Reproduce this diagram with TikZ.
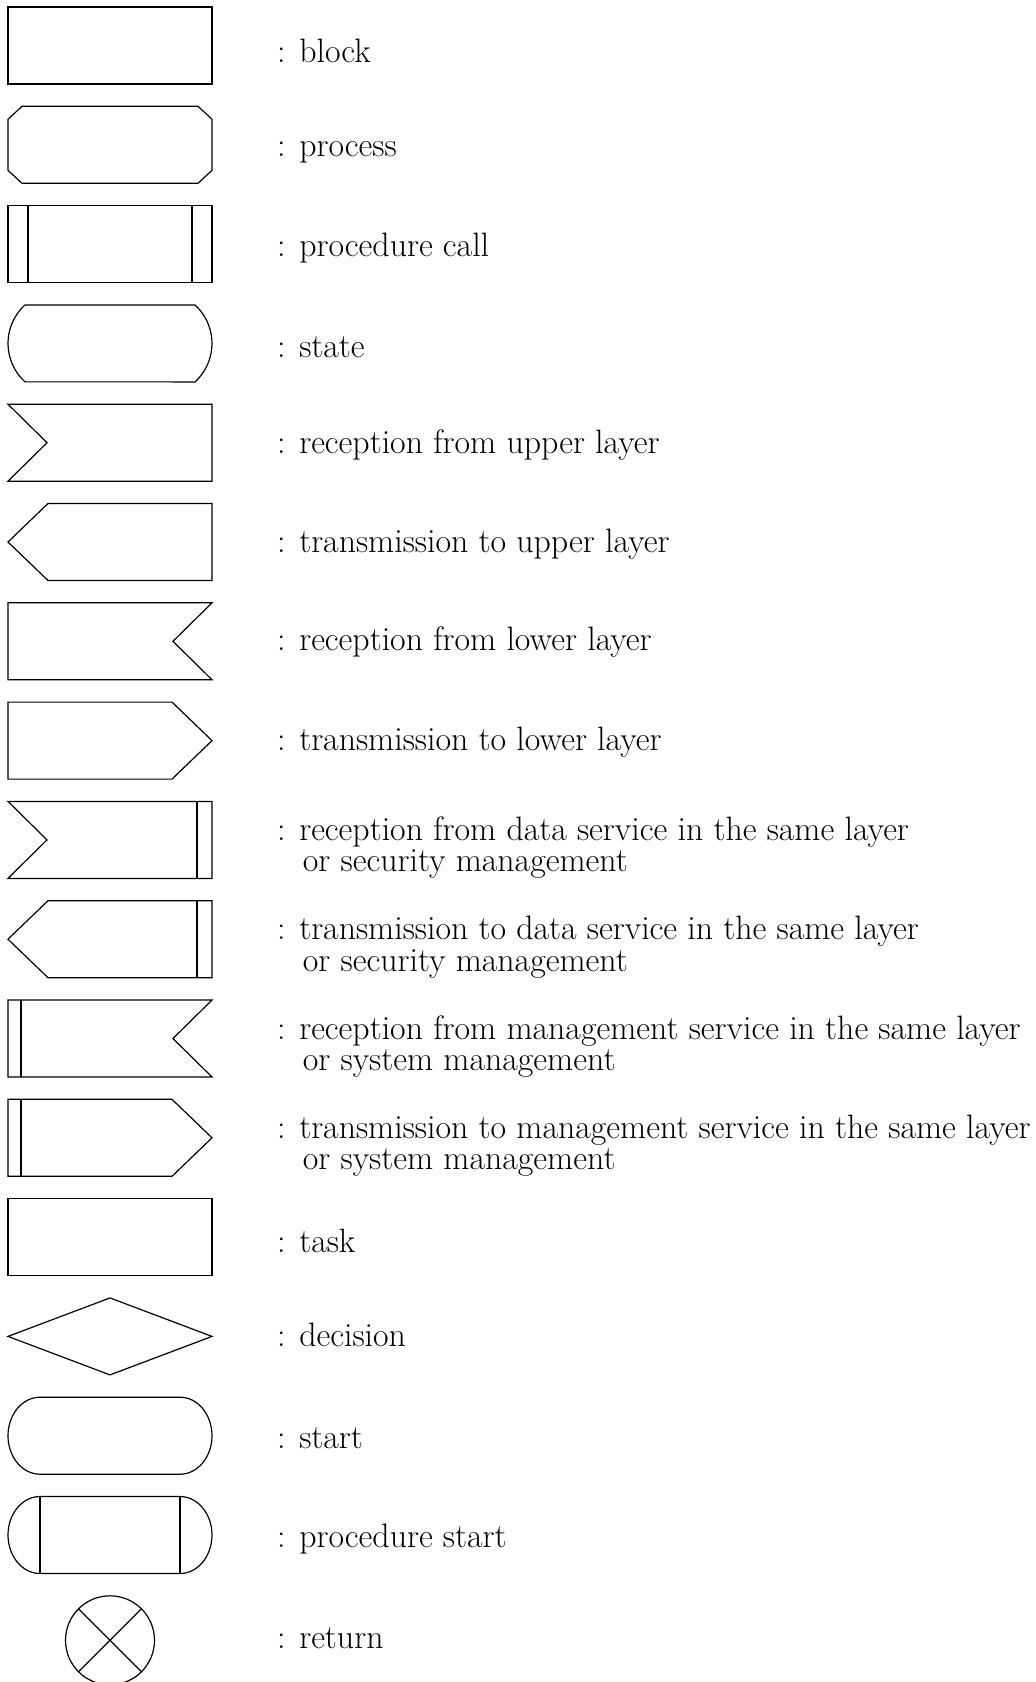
\documentclass[tikz,border=0pt]{standalone}
\usepackage{tikz}
\usetikzlibrary{positioning}

\begin{document}
\begin{tikzpicture}[
    x=1pt, y=-1pt,
    symb/.style={draw, line width=1.2pt},
    legendrow/.style={shift={(0,{7+99.3*#1})}},
    lbl/.style={anchor=base west, inner sep=0pt, font=\fontsize{33.85}{31.5}\selectfont},
    lbltwo/.style={lbl, align=left},
  ]
  \useasboundingbox (0,0) rectangle (1036,1682);

  % block
  \begin{scope}[legendrow=0]
    \draw[symb] (8,0) rectangle (212,77);
    \node[lbl] (block) at (277,55) {: block};
  \end{scope}

  % process
  \begin{scope}[legendrow=1]
    \draw[symb] (8,13) -- (22,0) -- (198,0) -- (212,13) -- (212,64)
      -- (198,77) -- (22,77) -- (8,64) -- cycle;
    \node[lbl] (process) at (277,50) {: process};
  \end{scope}

  % procedure call
  \begin{scope}[legendrow=2]
    \draw[symb] (8,0) rectangle (212,77);
    \draw[symb] (28,0) -- (28,77) (192,0) -- (192,77);
    \node[lbl] (proccall) at (277,51) {: procedure call};
  \end{scope}

  % state
  \begin{scope}[legendrow=3]
    \draw[symb] (25,0) arc[start angle=132.4, end angle=227.6, radius=52.1pt]
      -- (195,77) arc[start angle=-47.6, end angle=47.6, radius=52.1pt] -- cycle;
    \node[lbl] (state) at (277,53) {: state};
  \end{scope}

  % signals from/to upper and lower layer
  \begin{scope}[legendrow=4]
    \draw[symb] (8,0) -- (212,0) -- (212,77) -- (8,77) -- (47,38.5) -- cycle;
    \node[lbl] (recupper) at (277,49) {: reception from upper layer};
  \end{scope}
  \begin{scope}[legendrow=5]
    \draw[symb] (48,0) -- (212,0) -- (212,77) -- (48,77) -- (8,38.5) -- cycle;
    \node[lbl] (transupper) at (277,49) {: transmission to upper layer};
  \end{scope}
  \begin{scope}[legendrow=6]
    \draw[symb] (8,0) -- (212,0) -- (173,38.5) -- (212,77) -- (8,77) -- cycle;
    \node[lbl] (reclower) at (277,48) {: reception from lower layer};
  \end{scope}
  \begin{scope}[legendrow=7]
    \draw[symb] (8,0) -- (172,0) -- (212,38.5) -- (172,77) -- (8,77) -- cycle;
    \node[lbl] (translower) at (277,48) {: transmission to lower layer};
  \end{scope}

  % same layer services (base = second line)
  \begin{scope}[legendrow=8]
    \draw[symb] (8,0) -- (212,0) -- (212,77) -- (8,77) -- (47,38.5) -- cycle;
    \draw[symb] (197,0) -- (197,77);
    \node[lbltwo] (recdata) at (277,70.5)
      {: reception from data service in the same layer\\\hspace*{.76em}or security management};
  \end{scope}
  \begin{scope}[legendrow=9]
    \draw[symb] (48,0) -- (212,0) -- (212,77) -- (48,77) -- (8,38.5) -- cycle;
    \draw[symb] (197,0) -- (197,77);
    \node[lbltwo] (transdata) at (277,70.5)
      {: transmission to data service in the same layer\\\hspace*{.76em}or security management};
  \end{scope}
  \begin{scope}[legendrow=10]
    \draw[symb] (8,0) -- (212,0) -- (173,38.5) -- (212,77) -- (8,77) -- cycle;
    \draw[symb] (21,0) -- (21,77);
    \node[lbltwo] (recmgmt) at (277,70.5)
      {: reception from management service in the same layer\\\hspace*{.76em}or system management};
  \end{scope}
  \begin{scope}[legendrow=11]
    \draw[symb] (8,0) -- (172,0) -- (212,38.5) -- (172,77) -- (8,77) -- cycle;
    \draw[symb] (21,0) -- (21,77);
    \node[lbltwo] (transmgmt) at (277,70.5)
      {: transmission to management service in the same layer\\\hspace*{.76em}or system management};
  \end{scope}

  % task
  \begin{scope}[legendrow=12]
    \draw[symb] (8,0) rectangle (212,77);
    \node[lbl] (task) at (277,54) {: task};
  \end{scope}

  % decision
  \begin{scope}[legendrow=13]
    \draw[symb] (8,38.5) -- (110,0) -- (212,38.5) -- (110,77) -- cycle;
    \node[lbl] (decision) at (277,49) {: decision};
  \end{scope}

  % start
  \begin{scope}[legendrow=14]
    \draw[symb] (40,0) -- (180,0) arc[start angle=90, end angle=-90, x radius=32pt, y radius=38.5pt]
      -- (40,77) arc[start angle=270, end angle=90, x radius=32pt, y radius=38.5pt] -- cycle;
    \node[lbl] (start) at (277,51) {: start};
  \end{scope}

  % procedure start
  \begin{scope}[legendrow=15]
    \draw[symb] (40,0) -- (180,0) arc[start angle=90, end angle=-90, x radius=32pt, y radius=38.5pt]
      -- (40,77) arc[start angle=270, end angle=90, x radius=32pt, y radius=38.5pt] -- cycle;
    \draw[symb] (40,0) -- (40,77) (180,0) -- (180,77);
    \node[lbl] (procstart) at (277,51) {: procedure start};
  \end{scope}

  % return
  \begin{scope}[legendrow=16]
    \node[symb, circle, minimum size=89pt, inner sep=0pt] (ret) at (110,44.5) {};
    \draw[symb] (ret.north west) -- (ret.south east) (ret.north east) -- (ret.south west);
    \node[lbl] (return) at (277,53) {: return};
  \end{scope}
\end{tikzpicture}
\end{document}
